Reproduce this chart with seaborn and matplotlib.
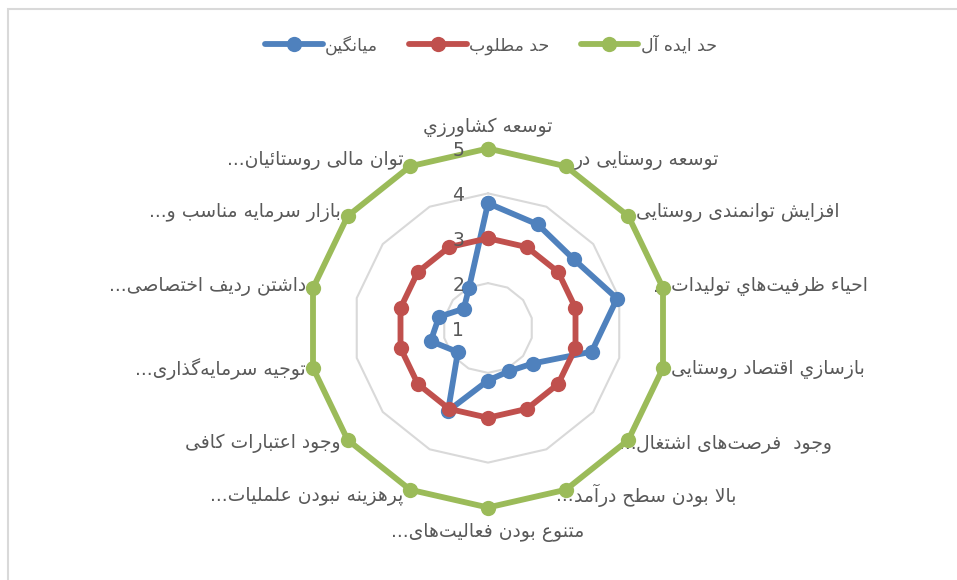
import numpy as np
import pandas as pd
import matplotlib
matplotlib.use("Agg")
import matplotlib.pyplot as plt
import matplotlib.transforms as mtransforms
from matplotlib.lines import Line2D
from matplotlib.patches import Rectangle
import seaborn as sns

# ---------------- data ----------------
categories = [
    "توسعه کشاورزي",
    "توسعه روستایی در...",
    "افزایش توانمندی روستایی",
    "احیاء ظرفیت\u200cهاي تولیدات...",
    "بازسازي اقتصاد روستایی",
    "وجود  فرصت\u200cهای اشتغال...",
    "بالا بودن سطح درآمد...",
    "متنوع بودن فعالیت\u200cهای...",
    "پرهزینه نبودن علملیات...",
    "وجود اعتبارات کافی",
    "توجیه سرمایه\u200cگذاری...",
    "داشتن ردیف اختصاصی...",
    "بازار سرمایه مناسب و...",
    "توان مالی روستائیان...",
]
series_names = ["میانگین", "حد مطلوب", "حد ایده آل"]
avg_values = [3.78, 3.56, 3.45, 3.95, 3.37, 2.27, 2.07, 2.17, 3.05, 1.86, 2.31, 2.12, 1.69, 1.98]
desired_values = [3] * 14
ideal_values = [5] * 14
tick_values = [1, 2, 3, 4, 5]
colors = ["#4F81BD", "#C0504D", "#9BBB59"]

# ---------------- simple Persian shaping (visual order) ----------------
# (isolated, final, initial, medial)
FORMS = {
    '\u0621': ('\uFE80', None, None, None),
    '\u0622': ('\uFE81', '\uFE82', None, None),
    '\u0623': ('\uFE83', '\uFE84', None, None),
    '\u0625': ('\uFE87', '\uFE88', None, None),
    '\u0626': ('\uFE89', '\uFE8A', '\uFE8B', '\uFE8C'),
    '\u0627': ('\uFE8D', '\uFE8E', None, None),
    '\u0628': ('\uFE8F', '\uFE90', '\uFE91', '\uFE92'),
    '\u0629': ('\uFE93', '\uFE94', None, None),
    '\u062A': ('\uFE95', '\uFE96', '\uFE97', '\uFE98'),
    '\u062B': ('\uFE99', '\uFE9A', '\uFE9B', '\uFE9C'),
    '\u062C': ('\uFE9D', '\uFE9E', '\uFE9F', '\uFEA0'),
    '\u062D': ('\uFEA1', '\uFEA2', '\uFEA3', '\uFEA4'),
    '\u062E': ('\uFEA5', '\uFEA6', '\uFEA7', '\uFEA8'),
    '\u062F': ('\uFEA9', '\uFEAA', None, None),
    '\u0630': ('\uFEAB', '\uFEAC', None, None),
    '\u0631': ('\uFEAD', '\uFEAE', None, None),
    '\u0632': ('\uFEAF', '\uFEB0', None, None),
    '\u0633': ('\uFEB1', '\uFEB2', '\uFEB3', '\uFEB4'),
    '\u0634': ('\uFEB5', '\uFEB6', '\uFEB7', '\uFEB8'),
    '\u0635': ('\uFEB9', '\uFEBA', '\uFEBB', '\uFEBC'),
    '\u0636': ('\uFEBD', '\uFEBE', '\uFEBF', '\uFEC0'),
    '\u0637': ('\uFEC1', '\uFEC2', '\uFEC3', '\uFEC4'),
    '\u0638': ('\uFEC5', '\uFEC6', '\uFEC7', '\uFEC8'),
    '\u0639': ('\uFEC9', '\uFECA', '\uFECB', '\uFECC'),
    '\u063A': ('\uFECD', '\uFECE', '\uFECF', '\uFED0'),
    '\u0641': ('\uFED1', '\uFED2', '\uFED3', '\uFED4'),
    '\u0642': ('\uFED5', '\uFED6', '\uFED7', '\uFED8'),
    '\u0643': ('\uFED9', '\uFEDA', '\uFEDB', '\uFEDC'),
    '\u0644': ('\uFEDD', '\uFEDE', '\uFEDF', '\uFEE0'),
    '\u0645': ('\uFEE1', '\uFEE2', '\uFEE3', '\uFEE4'),
    '\u0646': ('\uFEE5', '\uFEE6', '\uFEE7', '\uFEE8'),
    '\u0647': ('\uFEE9', '\uFEEA', '\uFEEB', '\uFEEC'),
    '\u0648': ('\uFEED', '\uFEEE', None, None),
    '\u0649': ('\uFEEF', '\uFEF0', None, None),
    '\u064A': ('\uFEF1', '\uFEF2', '\uFEF3', '\uFEF4'),
    '\u067E': ('\uFB56', '\uFB57', '\uFB58', '\uFB59'),
    '\u0686': ('\uFB7A', '\uFB7B', '\uFB7C', '\uFB7D'),
    '\u0698': ('\uFB8A', '\uFB8B', None, None),
    '\u06A9': ('\uFB8E', '\uFB8F', '\uFB90', '\uFB91'),
    '\u06AF': ('\uFB92', '\uFB93', '\uFB94', '\uFB95'),
    '\u06CC': ('\uFBFC', '\uFBFD', '\uFBFE', '\uFBFF'),
}
LAM_ALEF = {'\u0627': ('\uFEFB', '\uFEFC'), '\u0622': ('\uFEF5', '\uFEF6'),
            '\u0623': ('\uFEF7', '\uFEF8'), '\u0625': ('\uFEF9', '\uFEFA')}


def joins_left(c):
    return c in FORMS and FORMS[c][2] is not None


def joins_right(c):
    return c in FORMS and FORMS[c][1] is not None


def shape(text):
    out = []
    n = len(text)
    i = 0
    while i < n:
        c = text[i]
        prev = text[i - 1] if i > 0 else ''
        nxt = text[i + 1] if i + 1 < n else ''
        if c == '\u200c':
            i += 1
            continue
        if c not in FORMS:
            out.append(c)
            i += 1
            continue
        p = joins_left(prev) and joins_right(c)
        if c == '\u0644' and nxt in LAM_ALEF:
            out.append(LAM_ALEF[nxt][1 if p else 0])
            i += 2
            continue
        q = joins_left(c) and joins_right(nxt)
        iso, fin, ini, med = FORMS[c]
        if p and q:
            out.append(med)
        elif p:
            out.append(fin)
        elif q:
            out.append(ini)
        else:
            out.append(iso)
        i += 1
    return ''.join(reversed(out))


# ---------------- figure ----------------
sns.set_theme(style="white")
plt.rcParams['font.family'] = ['DejaVu Sans']
text_color = "#595959"

W, H = 957, 580
fig = plt.figure(figsize=(W / 100, H / 100), dpi=100)
cx, cy, R = 488, 328, 179.5
ax = fig.add_axes([(cx - R) / W, (H - cy - R) / H, 2 * R / W, 2 * R / H], projection='polar')
ax.set_theta_zero_location('N')
ax.set_theta_direction(-1)
ax.set_ylim(tick_values[0], tick_values[-1])
ax.grid(False)
ax.set_xticks([])
ax.set_yticks([])
ax.spines['polar'].set_visible(False)
ax.patch.set_alpha(0)

n = len(categories)
theta = np.linspace(0, 2 * np.pi, n, endpoint=False)
theta_closed = np.append(theta, theta[0])

# polygon gridlines
for r in tick_values[1:]:
    ax.plot(theta_closed, [r] * (n + 1), color="#D9D9D9", lw=1.5, zorder=1, clip_on=False)

rows = []
for name, vals in zip(series_names, [avg_values, desired_values, ideal_values]):
    closed = list(vals) + [vals[0]]
    for t, v in zip(theta_closed, closed):
        rows.append({"theta": t, "value": v, "series": name})
df = pd.DataFrame(rows)

palette = dict(zip(series_names, colors))
for k, name in enumerate(series_names):
    sns.lineplot(data=df[df.series == name], x="theta", y="value", color=palette[name],
                 sort=False, estimator=None, marker='o', markersize=11, markeredgewidth=0,
                 lw=4.2, ax=ax, legend=False, clip_on=False, zorder=3 + k)
ax.set_xlabel("")
ax.set_ylabel("")
ax.set_ylim(tick_values[0], tick_values[-1])

# radial tick labels
for r in tick_values:
    tr = mtransforms.offset_copy(ax.transData, fig=fig, x=-24, y=-2, units='dots')
    ax.text(0, r, str(r), transform=tr, ha='right', va='center', fontsize=13.5,
            color=text_color, zorder=10)

# category labels
lab_fs = 13.5
rmax = tick_values[-1]
for t, lab in zip(theta, categories):
    s, c = np.sin(t), np.cos(t)
    if abs(s) < 1e-6:
        dy = 21 if c > 0 else -25
        tr = mtransforms.offset_copy(ax.transData, fig=fig, x=0, y=dy, units='dots')
        ax.text(t, rmax, shape(lab), transform=tr, ha='center', va='center',
                fontsize=lab_fs, color=text_color)
    elif s > 0:
        dy = 6 * c
        tr = mtransforms.offset_copy(ax.transData, fig=fig, x=8, y=dy, units='dots')
        if lab.endswith('...'):
            body = lab[:-3]
            ax.text(t, rmax, shape(body), transform=tr, ha='left', va='center',
                    fontsize=lab_fs, color=text_color)
            ax.text(t, rmax, '...', transform=tr, ha='right', va='center',
                    fontsize=lab_fs, color=text_color)
        else:
            ax.text(t, rmax, shape(lab), transform=tr, ha='left', va='center',
                    fontsize=lab_fs, color=text_color)
    else:
        dy = 6 * c
        tr = mtransforms.offset_copy(ax.transData, fig=fig, x=-7, y=dy, units='dots')
        ax.text(t, rmax, shape(lab), transform=tr, ha='right', va='center',
                fontsize=lab_fs, color=text_color)

# legend
handles = [Line2D([], [], color=col, lw=4.2, marker='o', markersize=11, markeredgewidth=0)
           for col in colors]
fig.legend(handles, [shape(s) for s in series_names], loc='center', bbox_to_anchor=(491 / W, 1 - 45 / H),
           ncol=3, frameon=False, handlelength=3.3, handletextpad=0.15, columnspacing=1.8,
           prop={'size': 12.5}, labelcolor=text_color)

# chart border (left & top visible)
fig.patches.append(Rectangle((8 / W, -0.05), 1.2, (H - 9) / H + 0.05, transform=fig.transFigure,
                             fill=False, edgecolor="#D9D9D9", lw=1.5, zorder=0))

fig.savefig("out.png", dpi=100)
